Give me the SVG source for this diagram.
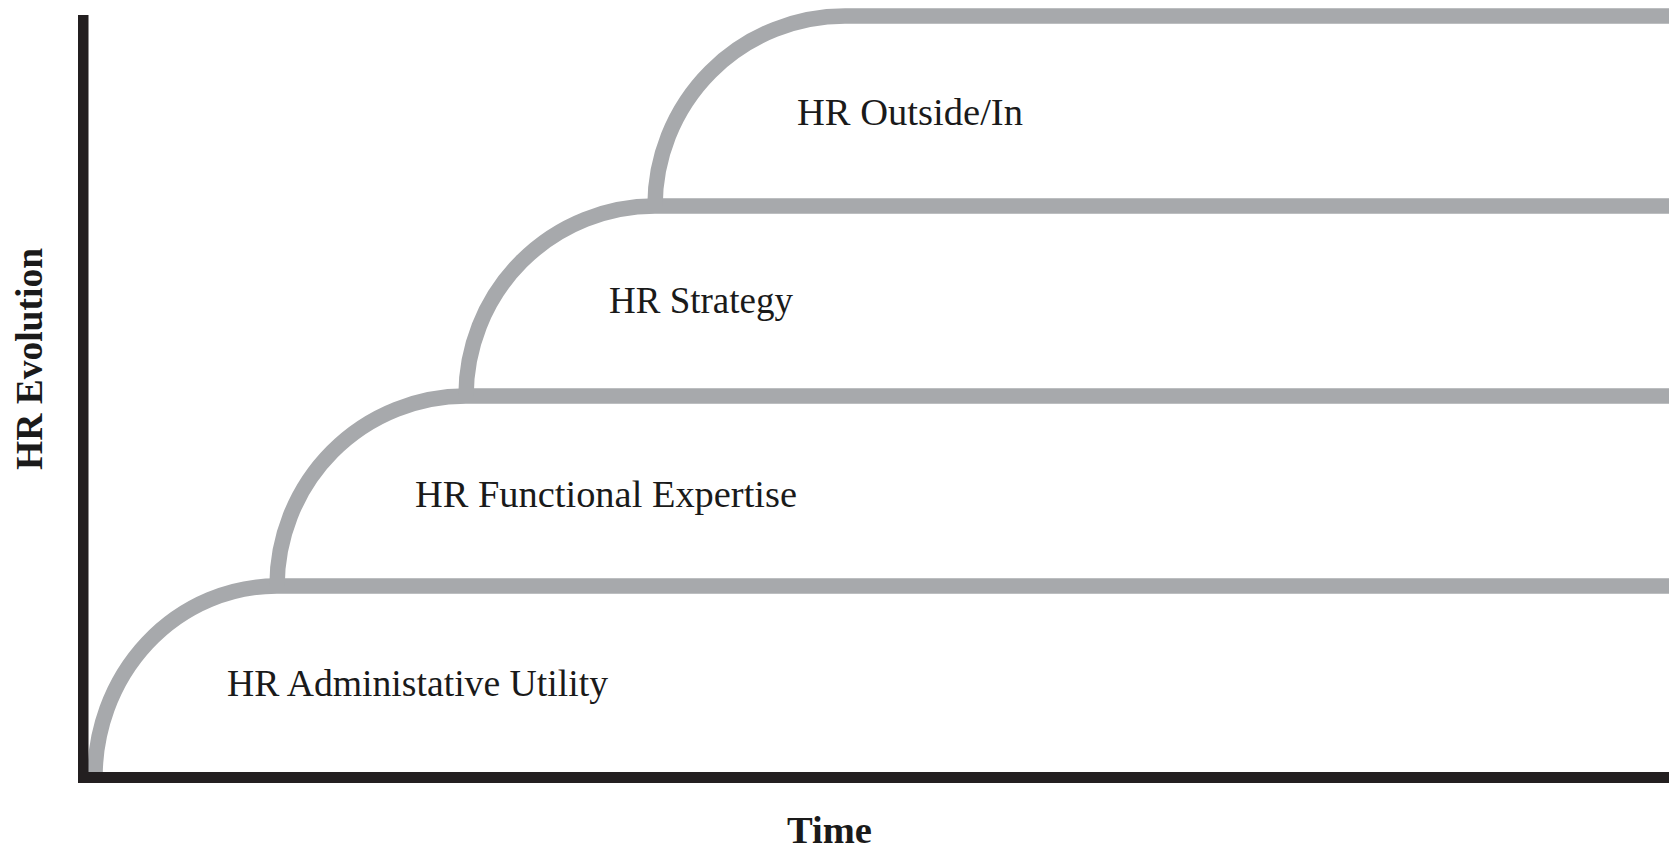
<svg xmlns="http://www.w3.org/2000/svg" width="1675" height="849" viewBox="0 0 1675 849">
<style>
.step{fill:none;stroke:#a7a9ac;stroke-width:15.5;stroke-linecap:butt}
.axis{fill:#231f20}
.lbl{font-family:"Liberation Serif","DejaVu Serif",serif;font-size:37px;fill:#1a1a1a}
.ttl{font-family:"Liberation Serif","DejaVu Serif",serif;font-size:37px;font-weight:bold;fill:#1a1a1a}
</style>
<rect width="1675" height="849" fill="#ffffff"/>
<g id="connectors">
<path class="step" d="M95,780 A182,191 0 0 1 277,586 H1669"/>
<path class="step" d="M277,586 A189,190 0 0 1 466,396 H1669"/>
<path class="step" d="M466,396 A189,190 0 0 1 655,206 H1669"/>
<path class="step" d="M655,206 A190,190 0 0 1 845,16 H1669"/>
</g>
<g id="axes">
<rect class="axis" x="78" y="15" width="10.5" height="768"/>
<rect class="axis" x="78" y="772" width="1591" height="11"/>
</g>
<g id="node-admin"><text class="lbl" x="227" y="696" textLength="381" lengthAdjust="spacingAndGlyphs">HR Administative Utility</text></g>
<g id="node-functional"><text class="lbl" x="415" y="507" textLength="382" lengthAdjust="spacingAndGlyphs">HR Functional Expertise</text></g>
<g id="node-strategy"><text class="lbl" x="609" y="313" textLength="184" lengthAdjust="spacingAndGlyphs">HR Strategy</text></g>
<g id="node-outside"><text class="lbl" x="797" y="125" textLength="226" lengthAdjust="spacingAndGlyphs">HR Outside/In</text></g>
<g id="label-time"><text class="ttl" x="787" y="843" textLength="85" lengthAdjust="spacingAndGlyphs">Time</text></g>
<g id="label-evolution"><text class="ttl" transform="translate(42,470) rotate(-90)" x="0" y="0" textLength="222" lengthAdjust="spacingAndGlyphs">HR Evolution</text></g>
</svg>
